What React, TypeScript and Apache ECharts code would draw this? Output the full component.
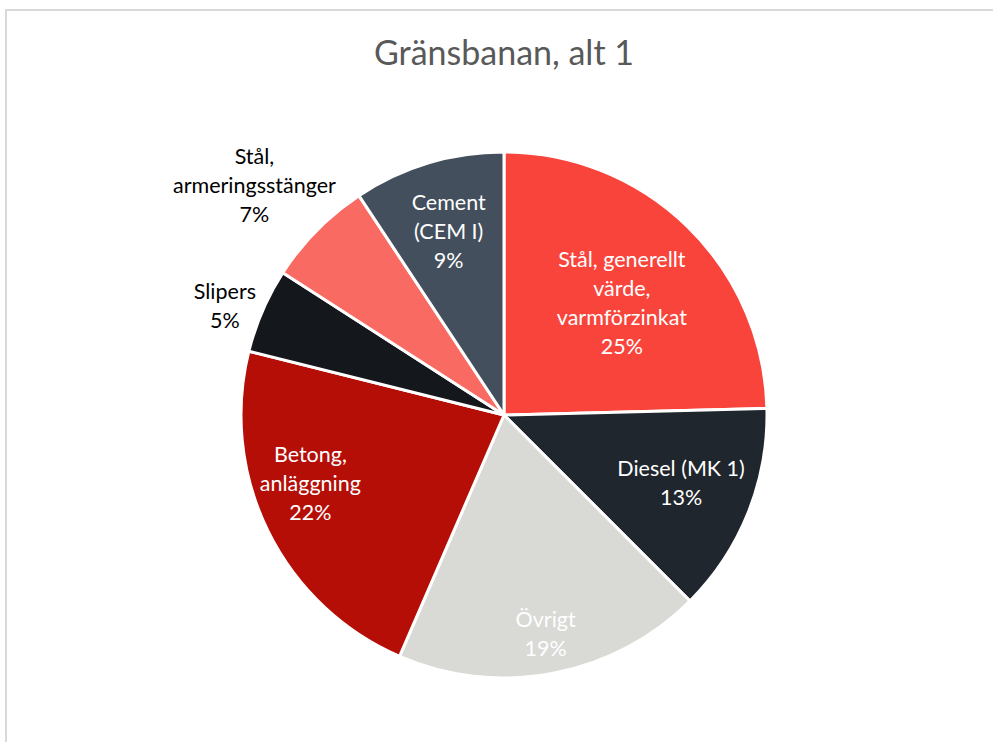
import React, { useEffect, useRef } from "react";
import * as echarts from "echarts";

const titleText = "Gränsbanan, alt 1";
const categories = [
  "Stål, generellt värde, varmförzinkat",
  "Diesel (MK 1)",
  "Övrigt",
  "Betong, anläggning",
  "Slipers",
  "Stål, armeringsstänger",
  "Cement (CEM I)",
];
const labelTexts = [
  "Stål, generellt\nvärde,\nvarmförzinkat",
  "Diesel (MK 1)",
  "Övrigt",
  "Betong,\nanläggning",
  "Slipers",
  "Stål,\narmeringsstänger",
  "Cement\n(CEM I)",
];
const values = [24.6, 12.9, 19.0, 22.4, 5.2, 6.6, 9.3];

const colors = ["#F9443C", "#20262D", "#D9D9D6", "#B40E07", "#14171B", "#F96A63", "#434F5C"];
const labelColors = ["#FFFFFF", "#FFFFFF", "#FFFFFF", "#FFFFFF", "#000000", "#000000", "#FFFFFF"];
// label distance from centre as a fraction of the radius, and small angular nudge (deg)
const labelRadius = [0.62, 0.72, 0.845, 0.78, 1.14, 1.29, 0.73];
const labelAngleShift = [2, -1, 0, 7, -2, -2, 0];

const CX = 504;
const CY = 415;
const R = 263;
const FONT = "Lato, 'Open Sans', sans-serif";

export default function App() {
  const ref = useRef<HTMLDivElement>(null);
  useEffect(() => {
    document.body.style.margin = "0";
    const chart = echarts.init(ref.current!, undefined, { renderer: "svg" });
    chart.setOption({
      animation: false,
      backgroundColor: "#FFFFFF",
      title: {
        text: titleText,
        left: CX - 5,
        top: 29,
        textAlign: "center",
        textStyle: { fontFamily: FONT, fontSize: 34, fontWeight: "normal", color: "#595959" },
      },
      graphic: [
        {
          type: "rect",
          silent: true,
          shape: { x: 6, y: 10, width: 1100, height: 900 },
          style: { fill: "none", stroke: "#D9D9D9", lineWidth: 2 },
        },
      ],
      series: [
        {
          type: "pie",
          center: [CX, CY],
          radius: R,
          startAngle: 90,
          clockwise: true,
          avoidLabelOverlap: false,
          itemStyle: { borderColor: "#FFFFFF", borderWidth: 3 },
          label: {
            show: true,
            position: "inside",
            fontFamily: FONT,
            fontSize: 21.5,
            lineHeight: 29,
            align: "center",
            formatter: (p: any) => labelTexts[p.dataIndex] + "\n" + Math.round(p.percent) + "%",
          },
          labelLine: { show: false },
          labelLayout: (p: any) => {
            const i = p.dataIndex;
            const lx = p.labelRect.x + p.labelRect.width / 2;
            const ly = p.labelRect.y + p.labelRect.height / 2;
            let a = Math.atan2(ly - CY, lx - CX);
            a += (labelAngleShift[i] * Math.PI) / 180;
            const d = labelRadius[i] * R;
            return { x: CX + d * Math.cos(a), y: CY + d * Math.sin(a), align: "center", verticalAlign: "middle" };
          },
          data: categories.map((name, i) => ({
            name,
            value: values[i],
            itemStyle: { color: colors[i] },
            label: { color: labelColors[i] },
          })),
        },
      ],
    });
    return () => chart.dispose();
  }, []);
  return (
    <div
      ref={ref}
      style={{ position: "absolute", left: 0, top: 0, width: 993, height: 742 }}
    />
  );
}
